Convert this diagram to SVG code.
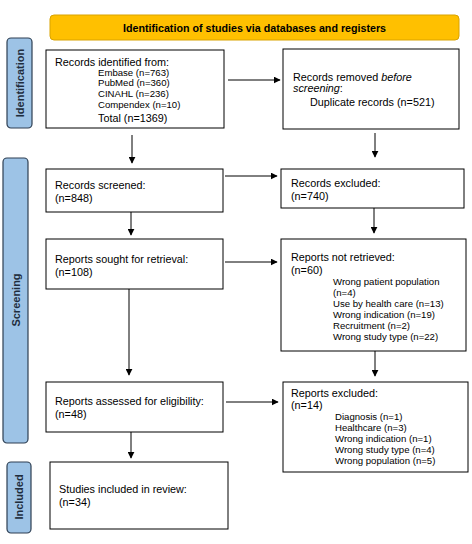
<svg xmlns="http://www.w3.org/2000/svg" width="472" height="544" viewBox="0 0 472 544">
<defs>
<marker id="ah" viewBox="0 0 10 10" refX="9" refY="5" markerWidth="7" markerHeight="7" markerUnits="userSpaceOnUse" orient="auto">
<path d="M0,0 L10,5 L0,10 z" fill="#000"/>
</marker>
<style>
.box{fill:#fff;stroke:#000;stroke-width:1}
.side{fill:#9DC3E6;stroke:#2E3F52;stroke-width:1.2}
.sidet{font-family:"Liberation Sans",Arial,sans-serif;font-size:11px;font-weight:bold;fill:#1F2D3D}
.t{font-family:"Liberation Sans",Arial,sans-serif;font-size:10.8px;fill:#000}
.s{font-family:"Liberation Sans",Arial,sans-serif;font-size:9.6px;fill:#000}
.c{stroke:#000;stroke-width:1;fill:none;marker-end:url(#ah)}
</style>
</defs>
<rect width="472" height="544" fill="#fff"/>
<g id="header">
<rect x="50" y="15" width="409" height="25" rx="4" fill="#FFC000" stroke="#D9A300" stroke-width="1"/>
<text x="254.5" y="31.5" text-anchor="middle" font-family="Liberation Sans,Arial,sans-serif" font-size="10.7" font-weight="bold">Identification of studies via databases and registers</text>
</g>
<g id="side-identification">
<rect class="side" x="7" y="38" width="25" height="90" rx="4"/>
<text class="sidet" transform="translate(23.5,83) rotate(-90)" text-anchor="middle">Identification</text>
</g>
<g id="side-screening">
<rect class="side" x="3" y="158" width="25" height="285" rx="4"/>
<text class="sidet" transform="translate(19.5,300) rotate(-90)" text-anchor="middle">Screening</text>
</g>
<g id="side-included">
<rect class="side" x="7" y="462" width="24" height="71" rx="4"/>
<text class="sidet" transform="translate(23,497) rotate(-90)" text-anchor="middle">Included</text>
</g>
<g id="records-identified">
<rect class="box" x="46" y="50" width="178" height="78"/>
<text class="t" x="55" y="66">Records identified from:</text>
<text class="s" x="98" y="75.5">Embase (n=763)</text>
<text class="s" x="98" y="86">PubMed (n=360)</text>
<text class="s" x="98" y="97">CINAHL (n=236)</text>
<text class="s" x="98" y="108">Compendex (n=10)</text>
<text class="t" x="98" y="122">Total (n=1369)</text>
</g>
<g id="records-removed">
<rect class="box" x="283" y="49" width="176" height="80"/>
<text class="t" x="293" y="80.5">Records removed <tspan font-style="italic">before</tspan></text>
<text class="t" x="293" y="92" font-style="italic">screening<tspan font-style="normal">:</tspan></text>
<text class="t" x="310" y="105.5">Duplicate records (n=521)</text>
</g>
<g id="records-screened">
<rect class="box" x="46" y="169" width="177" height="43"/>
<text class="t" x="55" y="189">Records screened:</text>
<text class="t" x="55" y="201.5">(n=848)</text>
</g>
<g id="records-excluded">
<rect class="box" x="281" y="169" width="183" height="39"/>
<text class="t" x="291" y="187">Records excluded:</text>
<text class="t" x="291" y="199.5">(n=740)</text>
</g>
<g id="reports-sought">
<rect class="box" x="46" y="239" width="177" height="50"/>
<text class="t" x="55" y="263">Reports sought for retrieval:</text>
<text class="t" x="55" y="275.5">(n=108)</text>
</g>
<g id="reports-not-retrieved">
<rect class="box" x="281" y="239" width="185" height="112"/>
<text class="t" x="291" y="261">Reports not retrieved:</text>
<text class="t" x="291" y="273.5">(n=60)</text>
<text class="s" x="333" y="284.5">Wrong patient population</text>
<text class="s" x="333" y="296">(n=4)</text>
<text class="s" x="333" y="307">Use by health care (n=13)</text>
<text class="s" x="333" y="318">Wrong indication (n=19)</text>
<text class="s" x="333" y="329">Recruitment (n=2)</text>
<text class="s" x="333" y="340">Wrong study type (n=22)</text>
</g>
<g id="reports-assessed">
<rect class="box" x="46" y="382" width="177" height="50"/>
<text class="t" x="55" y="405">Reports assessed for eligibility:</text>
<text class="t" x="55" y="418">(n=48)</text>
</g>
<g id="reports-excluded">
<rect class="box" x="283" y="382" width="185" height="90"/>
<text class="t" x="291" y="397">Reports excluded:</text>
<text class="t" x="291" y="409">(n=14)</text>
<text class="s" x="335" y="419.5">Diagnosis (n=1)</text>
<text class="s" x="335" y="430.5">Healthcare (n=3)</text>
<text class="s" x="335" y="441.5">Wrong indication (n=1)</text>
<text class="s" x="335" y="452.5">Wrong study type (n=4)</text>
<text class="s" x="335" y="463.5">Wrong population (n=5)</text>
</g>
<g id="studies-included">
<rect class="box" x="50" y="462" width="178" height="67"/>
<text class="t" x="59" y="493">Studies included in review:</text>
<text class="t" x="59" y="506">(n=34)</text>
</g>
<g id="connectors">
<line class="c" x1="228" y1="80" x2="280" y2="80"/>
<line class="c" x1="132" y1="135" x2="132" y2="163"/>
<line class="c" x1="375" y1="133" x2="375" y2="157"/>
<line class="c" x1="225" y1="176" x2="277" y2="176"/>
<line class="c" x1="131" y1="212" x2="131" y2="235"/>
<line class="c" x1="374" y1="208" x2="374" y2="233"/>
<line class="c" x1="225" y1="262" x2="277" y2="262"/>
<line class="c" x1="129" y1="289" x2="129" y2="375" stroke="#555"/>
<line class="c" x1="375" y1="351" x2="375" y2="376"/>
<line class="c" x1="226" y1="402" x2="278" y2="402"/>
<line class="c" x1="131" y1="432" x2="131" y2="458"/>
</g>
</svg>
